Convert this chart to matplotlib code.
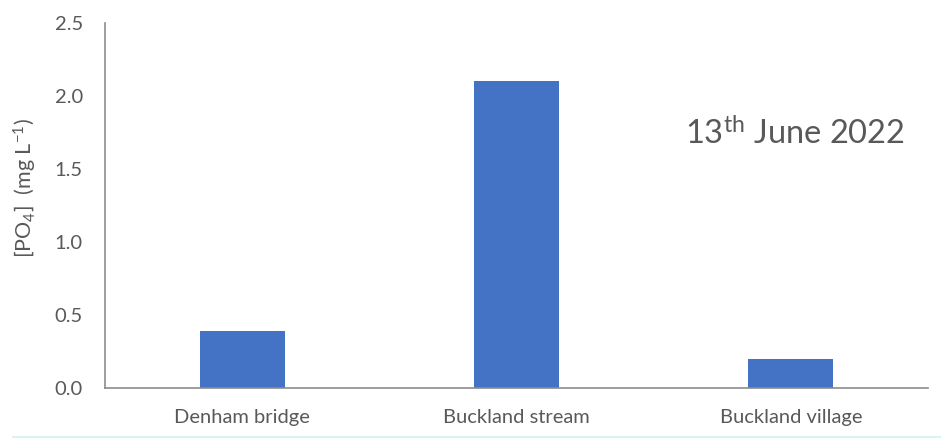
import matplotlib
matplotlib.use("Agg")
import matplotlib.pyplot as plt
from matplotlib.lines import Line2D

# data -----------------------------------------------------------------
sites = ["Denham bridge", "Buckland stream", "Buckland village"]
po4 = [0.39, 2.10, 0.20]
y_ticks = [0.0, 0.5, 1.0, 1.5, 2.0, 2.5]

BAR = "#4472C4"
TEXT = "#595959"
SPINE = "#8C8C8C"

plt.rcParams["font.family"] = ["Lato", "DejaVu Sans"]
plt.rcParams["mathtext.default"] = "regular"

fig = plt.figure(figsize=(9.41, 4.41), dpi=100)
ax = fig.add_axes([105 / 941, 1 - 388 / 441, 823 / 941, 365 / 441])

x = list(range(len(sites)))
ax.bar(x, po4, width=0.31, color=BAR, zorder=2)

ax.set_xlim(-0.5, len(sites) - 0.5)
ax.set_ylim(0, 2.5)
ax.set_xticks(x)
ax.set_xticklabels(sites)
ax.set_yticks(y_ticks)
ax.set_yticklabels([f"{v:.1f}" for v in y_ticks])
ax.tick_params(axis="x", length=0, pad=15, labelsize=14.5, labelcolor=TEXT)
ax.tick_params(axis="y", length=0, pad=16, labelsize=14.5, labelcolor=TEXT)

for side in ("top", "right"):
    ax.spines[side].set_visible(False)
for side in ("left", "bottom"):
    ax.spines[side].set_color(SPINE)
    ax.spines[side].set_linewidth(1.2)

fig.text(25 / 941, 1 - 188 / 441, r"[PO$_4$]  (mg L$^{-1}$)", rotation=90,
         ha="center", va="center", fontsize=15.5, color=TEXT)

ax.text(0.705, 0.666, r"13$^{th}$ June 2022", transform=ax.transAxes,
        ha="left", va="baseline", fontsize=23.5, color=TEXT)

# faint line along the bottom of the frame
fig.add_artist(Line2D([13 / 941, 1.0], [1 - 437 / 441, 1 - 437 / 441],
                      transform=fig.transFigure, color="#DDF2F2", lw=1.5))

fig.savefig("out.png", dpi=100)
